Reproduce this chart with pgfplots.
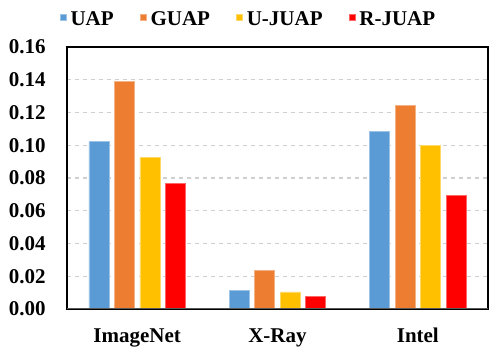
\documentclass[border=0pt]{standalone}
\usepackage{fontspec}
\setmainfont{Liberation Serif}
\usepackage{pgfplots}
\pgfplotsset{compat=1.18}
\definecolor{uap}{HTML}{5B9BD5}
\definecolor{guap}{HTML}{ED7D31}
\definecolor{ujuap}{HTML}{FFC000}
\definecolor{rjuap}{HTML}{FF0000}
\definecolor{gridgray}{HTML}{D0D0D0}
\definecolor{basegray}{HTML}{595959}

\begin{document}
\fontsize{10.5}{12}\selectfont\bfseries
\begin{tikzpicture}
\begin{axis}[
    name=ax,
    scale only axis,
    width=210.5pt, height=131pt,
    ybar,
    bar width=10pt,
    xmin=-0.5, xmax=2.5,
    ymin=0, ymax=0.16,
    xtick={0,1,2},
    xticklabels={ImageNet, X-Ray, Intel},
    ytick={0,0.02,...,0.16},
    yticklabel style={/pgf/number format/.cd, fixed, fixed zerofill, precision=2},
    /pgf/number format/assume math mode=true,
    tick label style={font=\fontsize{10.5}{12}\selectfont\bfseries},
    major tick length=0pt,
    yticklabel shift=7pt,
    xticklabel shift=6pt,
    axis line style={black, line width=1.2pt},
    ymajorgrids,
    grid style={gridgray, dash pattern=on 2pt off 2pt, line width=0.6pt},
    legend columns=4,
    legend style={
        at={(axis description cs:0.5,1)}, anchor=center,
        xshift=-14pt, yshift=13.5pt,
        draw=none, fill=none,
        font=\fontsize{10.5}{12}\selectfont\bfseries,
        /tikz/every even column/.append style={column sep=11pt},
    },
    legend image code/.code={\fill[#1] (0pt,-0.2pt) rectangle (3pt,2.8pt);},
]
\addplot[fill=uap, draw=uap!60!white, line width=0.4pt, bar shift=-19.1pt]
    coordinates {(0,0.1022) (1,0.0115) (2,0.1083)};
\addplot[fill=guap, draw=guap!60!white, line width=0.4pt, bar shift=-6.4pt]
    coordinates {(0,0.1390) (1,0.0235) (2,0.1245)};
\addplot[fill=ujuap, draw=ujuap!60!white, line width=0.4pt, bar shift=6.4pt]
    coordinates {(0,0.0928) (1,0.0104) (2,0.0999)};
\addplot[fill=rjuap, draw=rjuap!60!white, line width=0.4pt, bar shift=19.1pt]
    coordinates {(0,0.0768) (1,0.0076) (2,0.0691)};
\legend{UAP, GUAP, U-JUAP, R-JUAP}
\draw[basegray, line width=1.2pt] (rel axis cs:0,0) -- (rel axis cs:1,0);
\end{axis}
\pgfresetboundingbox
\path ([shift={(-33.5pt,-21.5pt)}]ax.south west) rectangle ([shift={(5pt,23.5pt)}]ax.north east);
\end{tikzpicture}
\end{document}
